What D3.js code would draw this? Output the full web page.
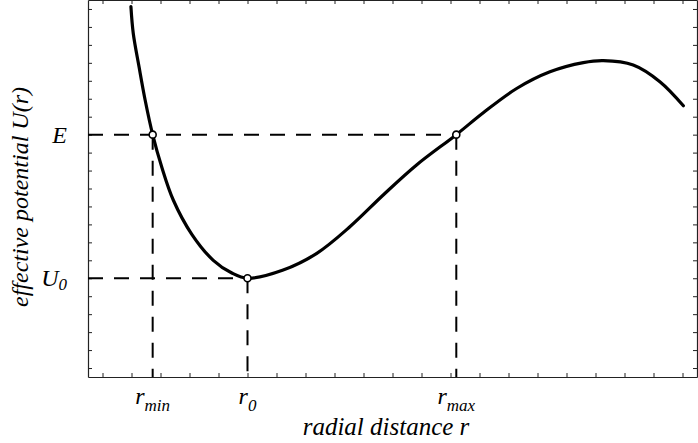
<!DOCTYPE html>
<html>
<head>
<meta charset="utf-8">
<script src="https://cdn.jsdelivr.net/npm/d3@7"></script>
<style>
  body { margin: 0; background: #fff; }
  svg { display: block; }
  .frame line, .frame path { stroke: #222; }
  text { font-family: "Liberation Serif", "Times New Roman", serif; font-style: italic; fill: #000; }
</style>
</head>
<body>
<svg class="chart"></svg>
<script>
// curve U(r)
var rValues = [0.98, 1.06, 1.26, 1.47, 1.73, 2.04, 2.44, 3.08, 3.82, 4.46, 5.0,
               6.23, 7.39, 8.53, 9.68, 10.83, 12.2, 13.13, 14.28, 15.43, 16.58,
               17.27, 18.3, 19.22, 20.03];
var uValues = [20.13, 18.65, 16.78, 14.93, 13.0, 11.21, 9.36, 7.45, 6.0, 5.29, 5.0,
               5.46, 6.39, 7.87, 9.64, 11.31, 13.0, 14.22, 15.57, 16.5, 17.01,
               17.12, 16.88, 15.95, 14.61];

// turning points and levels
var markR = [1.73, 5.0, 12.2];
var markU = [13.0, 5.0, 13.0];
var markSub = ['min', '0', 'max'];

var levelU = [13.0, 5.0];
var levelName = ['E', 'U'];
var levelSub = ['', '0'];
var levelEnd = [12.2, 5.0];

var W = 698, H = 443;
var margin = {top: 0, right: 1, bottom: 66, left: 88};
var width = W - margin.left - margin.right,
    height = H - margin.top - margin.bottom;

var svg = d3.select(".chart")
    .attr("width", W)
    .attr("height", H);

var chart = svg.append("g")
    .attr("transform", "translate(" + margin.left + "," + margin.top + ")");

// x - radial distance, y - potential
var x = d3.scaleLinear().domain([-0.5, 20.5]).range([0, width]);
var y = d3.scaleLinear().domain([-0.5, 20.5]).range([height, 0]);

var ticks = d3.range(0, 21);

function frameAxis(axis) {
  return axis.tickValues(ticks).tickSizeInner(-4).tickSizeOuter(0).tickFormat("");
}

chart.append("g").attr("class", "frame")
    .attr("transform", "translate(0," + height + ")")
    .call(frameAxis(d3.axisBottom(x)));
chart.append("g").attr("class", "frame")
    .call(frameAxis(d3.axisTop(x)));
chart.append("g").attr("class", "frame")
    .call(frameAxis(d3.axisLeft(y)));
chart.append("g").attr("class", "frame")
    .attr("transform", "translate(" + width + ",0)")
    .call(frameAxis(d3.axisRight(y)));

chart.selectAll(".frame path").attr("stroke-width", 1.2);

// dashed guides
chart.selectAll("line.level")
    .data(levelU)
  .enter().append("line")
    .attr("class", "level")
    .attr("x1", 0)
    .attr("x2", function(d, i) { return x(levelEnd[i]); })
    .attr("y1", function(d) { return y(d); })
    .attr("y2", function(d) { return y(d); })
    .attr("stroke", "#000")
    .attr("stroke-width", 2)
    .attr("stroke-dasharray", "15,11");

chart.selectAll("line.drop")
    .data(markR)
  .enter().append("line")
    .attr("class", "drop")
    .attr("x1", function(d) { return x(d); })
    .attr("x2", function(d) { return x(d); })
    .attr("y1", function(d, i) { return y(markU[i]); })
    .attr("y2", height)
    .attr("stroke", "#000")
    .attr("stroke-width", 2)
    .attr("stroke-dasharray", "15,11");

// the curve
var line = d3.line()
    .x(function(d) { return x(d); })
    .y(function(d, i) { return y(uValues[i]); })
    .curve(d3.curveCatmullRom.alpha(0.5));

chart.append("path")
    .datum(rValues)
    .attr("d", line)
    .attr("fill", "none")
    .attr("stroke", "#000")
    .attr("stroke-width", 3.2)
    .attr("stroke-linecap", "round");

chart.selectAll("circle.turn")
    .data(markR)
  .enter().append("circle")
    .attr("class", "turn")
    .attr("cx", function(d) { return x(d); })
    .attr("cy", function(d, i) { return y(markU[i]); })
    .attr("r", 3.5)
    .attr("fill", "#fff")
    .attr("stroke", "#000")
    .attr("stroke-width", 1.6);

// r labels under the axis
var rLab = chart.selectAll("text.rlab")
    .data(markR)
  .enter().append("text")
    .attr("class", "rlab")
    .attr("x", function(d) { return x(d); })
    .attr("y", height + 27)
    .attr("text-anchor", "middle")
    .style("font-size", "24px");
rLab.append("tspan").text("r");
rLab.append("tspan")
    .attr("dy", 7)
    .style("font-size", "17px")
    .text(function(d, i) { return markSub[i]; });

// level labels left of the axis
var uLab = chart.selectAll("text.ulab")
    .data(levelU)
  .enter().append("text")
    .attr("class", "ulab")
    .attr("x", -21)
    .attr("y", function(d) { return y(d) + 8; })
    .attr("text-anchor", "end")
    .style("font-size", "24px");
uLab.append("tspan").text(function(d, i) { return levelName[i]; });
uLab.append("tspan")
    .attr("dy", 4)
    .style("font-size", "17px")
    .text(function(d, i) { return levelSub[i]; });

// axis titles
chart.append("text")
    .attr("x", 298)
    .attr("y", height + 58)
    .attr("text-anchor", "middle")
    .style("font-size", "25px")
    .text("radial distance r");

chart.append("text")
    .attr("transform", "translate(" + (-60) + "," + 197 + ") rotate(-90)")
    .attr("text-anchor", "middle")
    .style("font-size", "24px")
    .text("effective potential U(r)");
</script>
</body>
</html>
